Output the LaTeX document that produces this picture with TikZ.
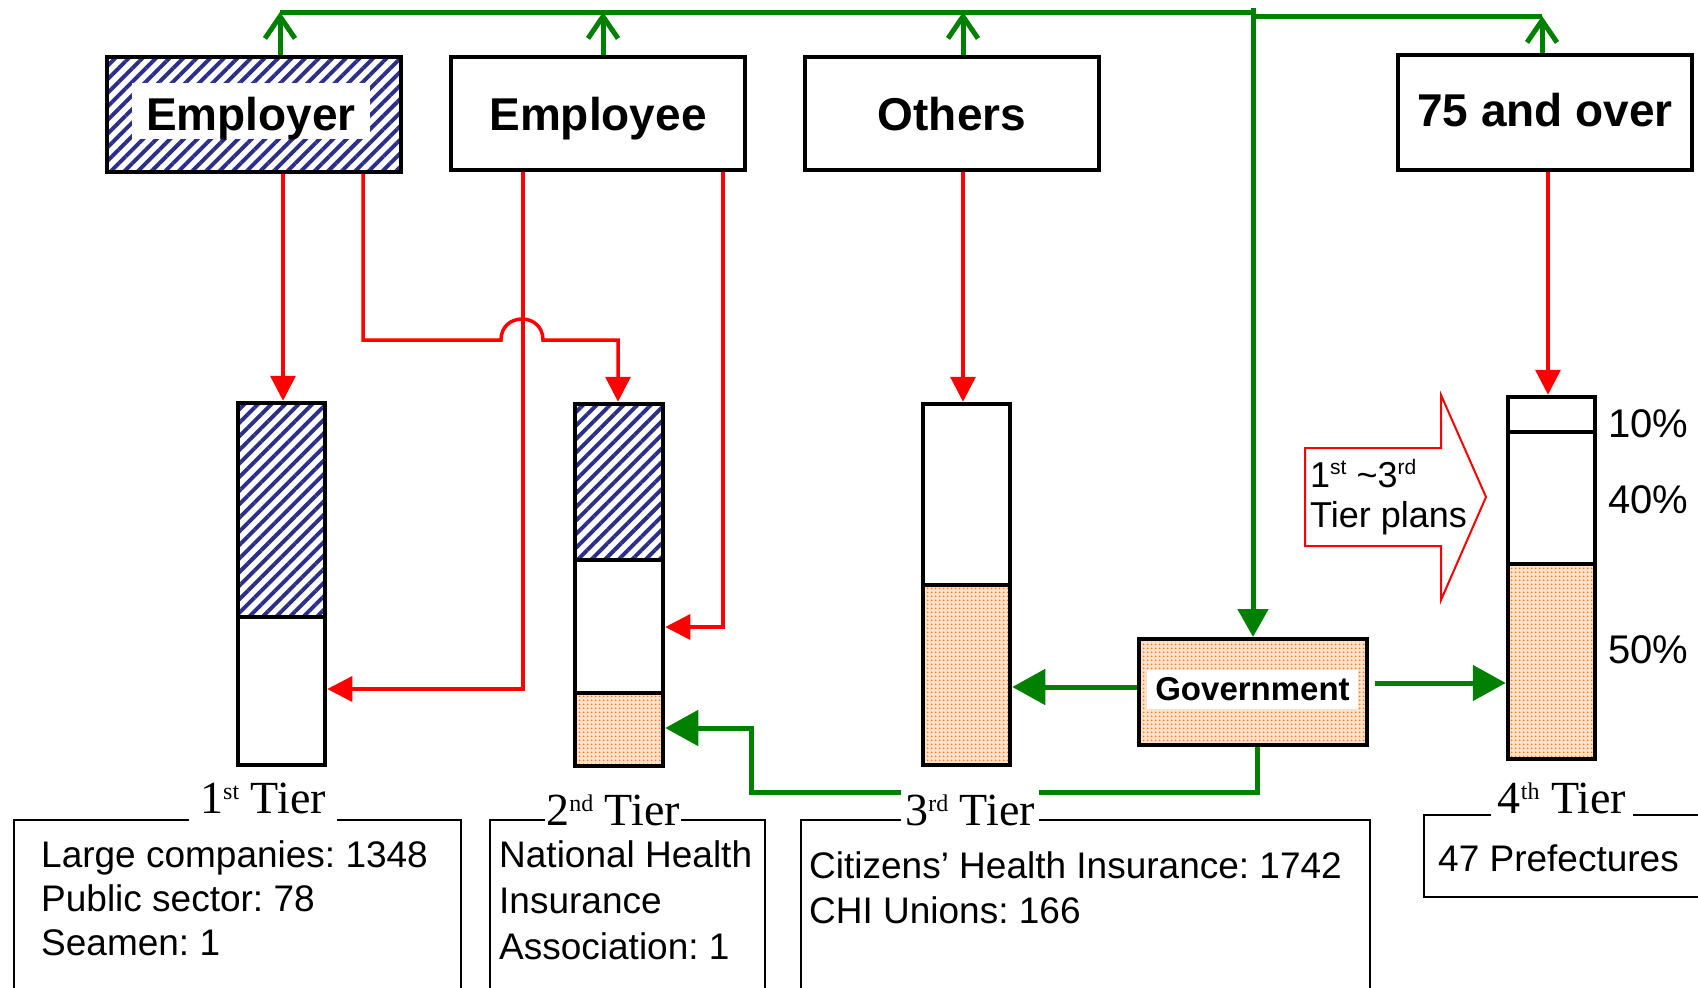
\documentclass[tikz,border=0pt]{standalone}
\usepackage{fontspec}
\setmainfont{Liberation Serif}
\newfontfamily\arial{Liberation Sans}
\usetikzlibrary{arrows.meta,patterns.meta}
\definecolor{grn}{RGB}{0,128,0}
\definecolor{hblue}{RGB}{44,46,140}
\definecolor{dorange}{RGB}{245,120,40}
\definecolor{peach}{RGB}{255,226,200}
\newcommand\supr[3]{\raisebox{#2pt}{\fontsize{#1}{#1}\selectfont #3}}
\frenchspacing
\begin{document}
\begin{tikzpicture}[x=1pt,y=-1pt,
  hatch/.style={pattern={Lines[angle=45,distance=9.6pt,line width=3.9pt]}, pattern color=hblue},
  dotfill/.style={preaction={fill=peach}, pattern={Dots[distance=4pt,radius=1.2pt]}, pattern color=dorange},
  topbox/.style={draw=black, line width=4pt, minimum width=294pt, minimum height=113pt, inner sep=0pt,
    text height=33pt, text depth=0pt,
    font={\arial\bfseries\fontsize{46}{50}\selectfont}},
  bar/.style={draw=black, line width=4.5pt, minimum width=87pt, minimum height=362pt, inner sep=0pt},
  barline/.style={draw=black, line width=4.5pt},
  infobox/.style={draw=black, line width=1.5pt, inner sep=0pt},
  info/.style={anchor=base west, inner sep=0pt, font={\arial\fontsize{37}{40}\selectfont}},
  tierlbl/.style={anchor=base, fill=white, inner ysep=0pt, text height=38pt, text depth=14pt,
    font={\fontsize{46}{50}\selectfont}},
  pct/.style={anchor=base west, inner sep=0pt, font={\arial\fontsize{40}{44}\selectfont}},
  rline/.style={draw=red, line width=3.5pt},
  rarrow/.style={rline, -{Triangle[length=25pt,width=25pt]}},
  gline/.style={draw=grn, line width=5pt},
  garr/.style={gline, -{Triangle[length=33pt,width=35pt]}},
  gup/.style={gline, -{Straight Barb[length=22pt,width=30pt]}}
]
\useasboundingbox (0,0) rectangle (1698,988);

% ---- top boxes
\node[topbox, hatch, minimum height=115pt] (emp) at (254,114.5) {};
\node[fill=white, inner sep=0pt, minimum width=238pt, text height=47pt, text depth=9pt,
  font={\arial\bfseries\fontsize{46}{50}\selectfont}] (emplbl) at (251,111) {Employer};
\node[topbox] (empl) at (598,113.5) {Employee};
\node[topbox] (oth) at (952,113.5) {Others};
\node[topbox, minimum height=115pt, text depth=6pt] (o75) at (1545,112.5) {75 and over};

% ---- bars: fills
\fill[hatch] (238,403) rectangle (325,617);
\fill[hatch] (575,404) rectangle (663,560);
\fill[dotfill] (575,693) rectangle (663,766);
\fill[dotfill] (923,585) rectangle (1010,765);
\fill[dotfill] (1508,564) rectangle (1595,759);
% ---- bars
\node[bar] (t1) at (281.5,584) {};
\node[bar, minimum width=88pt] (t2) at (619,585) {};
\node[bar, minimum height=361pt] (t3) at (966.5,584.5) {};
\node[bar] (t4) at (1551.5,578) {};
\draw[barline] (238,617) -- (325,617);
\draw[barline] (575,560) -- (663,560);
\draw[barline] (575,693) -- (663,693);
\draw[barline] (923,585) -- (1010,585);
\draw[barline] (1508,432) -- (1595,432);
\draw[barline] (1508,564) -- (1595,564);

% ---- government
\node[draw=black, line width=4pt, dotfill, minimum width=228pt, minimum height=106pt, inner sep=0pt] (gov) at (1253,692) {};
\node[fill=white, inner sep=0pt, minimum width=211pt, minimum height=39pt,
  font={\arial\bfseries\fontsize{33}{36}\selectfont}] (govlbl) at (1252.5,689.5) {Government};

% ---- block arrow
\draw[red, line width=2pt, fill=white] (1305,448) -- (1441,448) -- (1441,395) -- (1486,497) -- (1441,600) -- (1441,546) -- (1305,546) -- cycle;
\node[anchor=base west, inner sep=0pt, font={\arial\fontsize{36}{40}\selectfont}] (ba1) at (1310,487)
  {1\supr{21}{13}{st} \textasciitilde3\supr{21}{13}{rd}};
\node[anchor=base west, inner sep=0pt, font={\arial\fontsize{36}{40}\selectfont}] (ba2) at (1310,527) {Tier plans};

% ---- percentages
\node[pct] (p10) at (1608,437) {10\%};
\node[pct] (p40) at (1608,513) {40\%};
\node[pct] (p50) at (1608,663) {50\%};

% ---- green top network
\coordinate (h1) at (280,12);
\coordinate (h2) at (603,12);
\coordinate (h3) at (963,12);
\coordinate (jl) at (1253,12);
\coordinate (jr) at (1253,16);
\coordinate (h4) at (1542,16);
\coordinate (gtop) at (1253,8);
\draw[gline] (h1) -- (jl);
\draw[gline] (jr) -- (h4);
\draw[gup] (emp.north -| h1) -- (h1);
\draw[gup] (empl.north -| h2) -- (h2);
\draw[gup] (oth.north -| h3) -- (h3);
\draw[gup] (o75.north -| h4) -- (h4);
\draw[gline, -{Triangle[length=28pt,width=30pt]}] (gtop) -- (gov.north);

% ---- red connectors
\coordinate (r1a) at (283,300);
\draw[rarrow] (emp.south -| r1a) -- (t1.north -| r1a);
\coordinate (r2a) at (363,340);
\coordinate (r2b) at (618,340);
\draw[rarrow] (emp.south -| r2a) -- (r2a) -- (501,340) .. controls (501,312) and (543,312) .. (543,340) -- (r2b) -- (t2.north -| r2b);
\coordinate (r3a) at (523,689);
\draw[rarrow] (empl.south -| r3a) -- (r3a) -- (t1.east |- r3a);
\coordinate (r4a) at (723,627);
\draw[rarrow] (empl.south -| r4a) -- (r4a) -- (t2.east |- r4a);
\coordinate (r5a) at (963,300);
\draw[rarrow] (oth.south -| r5a) -- (t3.north -| r5a);
\coordinate (r6a) at (1548,300);
\draw[rarrow] (o75.south -| r6a) -- (t4.north -| r6a);

% ---- green from government
\coordinate (g1) at (1100,687);
\draw[garr] (gov.west |- g1) -- (t3.east |- g1);
\coordinate (g2) at (1400,683);
\draw[garr, shorten <=6pt] (gov.east |- g2) -- (t4.west |- g2);
\coordinate (g3a) at (1257,792);
\coordinate (g3b) at (751,792);
\coordinate (g3c) at (751,728);
\draw[garr] (gov.south -| g3a) -- (g3a) -- (g3b) -- (g3c) -- (t2.east |- g3c);

% ---- bottom info boxes
\node[infobox, minimum width=447pt, minimum height=180pt] (b1) at (237.5,910) {};
\node[infobox, minimum width=275pt, minimum height=180pt] (b2) at (627.5,910) {};
\node[infobox, minimum width=569pt, minimum height=180pt] (b3) at (1085.5,910) {};
\node[infobox, minimum width=288pt, minimum height=82pt] (b4) at (1568,856) {};

\node[tierlbl, inner xsep=11pt] (l1) at (263,813) {1\supr{24}{14}{st} Tier};
\node[tierlbl, inner xsep=1pt] (l2) at (613,825) {2\supr{24}{14}{nd} Tier};
\node[tierlbl, inner xsep=4pt] (l3) at (970,825) {3\supr{24}{14}{rd} Tier};
\node[tierlbl, inner xsep=7pt] (l4) at (1562,813) {4\supr{24}{14}{th} Tier};

\node[info] (i11) at (41,867) {Large companies: 1348};
\node[info] (i12) at (41,911) {Public sector: 78};
\node[info] (i13) at (41,955) {Seamen: 1};
\node[info] (i21) at (499,867) {National Health};
\node[info] (i22) at (499,913) {Insurance};
\node[info] (i23) at (499,959) {Association: 1};
\node[info] (i31) at (809,878) {Citizens’ Health Insurance: 1742};
\node[info] (i32) at (809,923) {CHI Unions: 166};
\node[info] (i41) at (1438,871) {47 Prefectures};
\end{tikzpicture}
\end{document}
